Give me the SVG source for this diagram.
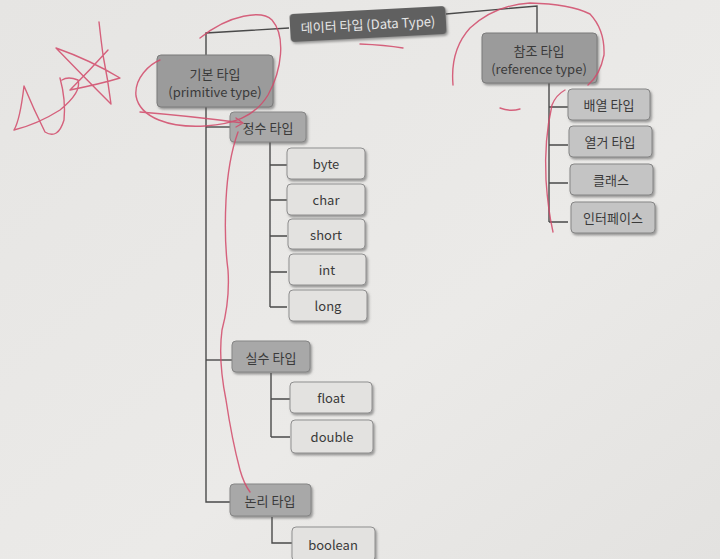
<svg xmlns="http://www.w3.org/2000/svg" width="720" height="559" viewBox="0 0 720 559">
<defs>
<linearGradient id="paper" x1="0" y1="0" x2="1" y2="1">
<stop offset="0" stop-color="#e6e5e3"/>
<stop offset="0.6" stop-color="#ebeae8"/>
<stop offset="1" stop-color="#e3e2e0"/>
</linearGradient>
<filter id="sh" x="-10%" y="-10%" width="130%" height="140%">
<feDropShadow dx="1.5" dy="2" stdDeviation="0.8" flood-color="#555" flood-opacity="0.55"/>
</filter>
<style>
text{font-family:"Noto Sans CJK KR","Noto Sans",sans-serif;font-size:13px;text-anchor:middle;dominant-baseline:central;fill:#3a3a3a}
.root rect{fill:#616161}
.root text{fill:#e6e6e6}
.l1 rect{fill:#9b9b9b;stroke:#7b7b7b;stroke-width:1}
.l2 rect{fill:#a8a8a8;stroke:#858585;stroke-width:1}
.rl rect{fill:#c4c4c4;stroke:#858585;stroke-width:1}
.pl rect{fill:#e3e2e0;stroke:#8f8f8f;stroke-width:1}
.conn{fill:none;stroke:#4a4a4a;stroke-width:1.4}
.pen{fill:none;stroke:#d24a6a;stroke-width:1.4;stroke-linecap:round;stroke-linejoin:round;opacity:0.85}
</style>
</defs>
<rect width="720" height="559" fill="url(#paper)"/>

<g id="connectors" class="conn">
<path d="M289,28 L206,33 L206,502 L231,502"/>
<path d="M206,127 L231,127"/>
<path d="M206,360 L232,360"/>
<path d="M446,14 L537,6 L537,33"/>
<path d="M549,83 L549,222"/>
<path d="M549,107 L568,107 M549,145 L568,145 M549,183 L568,183 M549,222 L568,222"/>
<path d="M270,142 L270,307"/>
<path d="M270,165 L287,165 M270,200 L287,200 M270,236 L287,236 M270,272 L287,272 M270,307 L287,307"/>
<path d="M271,373 L271,437"/>
<path d="M271,399 L290,399 M271,437 L290,437"/>
<path d="M272,517 L272,543 L292,543"/>
</g>

<g id="root" class="root" transform="rotate(-3 368 24)">
<rect x="290" y="10" width="156" height="28" rx="4" filter="url(#sh)"/>
<text x="368" y="24">데이터 타입 (Data Type)</text>
</g>

<g id="primitive" class="l1">
<rect x="157" y="55" width="116" height="52" rx="4" filter="url(#sh)"/>
<text x="215" y="73">기본 타입</text>
<text x="215" y="91">(primitive type)</text>
</g>
<g id="reference" class="l1">
<rect x="482" y="33" width="115" height="50" rx="4" filter="url(#sh)"/>
<text x="539" y="50">참조 타입</text>
<text x="539" y="68">(reference type)</text>
</g>

<g id="array" class="rl"><rect x="568" y="89" width="82" height="31" rx="4" filter="url(#sh)"/><text x="609" y="104">배열 타입</text></g>
<g id="enum" class="rl"><rect x="569" y="126" width="83" height="31" rx="4" filter="url(#sh)"/><text x="610" y="141">열거 타입</text></g>
<g id="class" class="rl"><rect x="570" y="164" width="83" height="31" rx="4" filter="url(#sh)"/><text x="611" y="179">클래스</text></g>
<g id="interface" class="rl"><rect x="571" y="202" width="84" height="31" rx="4" filter="url(#sh)"/><text x="613" y="217">인터페이스</text></g>

<g id="integer" class="l2"><rect x="230" y="112" width="76" height="30" rx="4" filter="url(#sh)"/><text x="268" y="127">정수 타입</text></g>
<g id="real" class="l2"><rect x="232" y="341" width="78" height="31" rx="4" filter="url(#sh)"/><text x="271" y="357">실수 타입</text></g>
<g id="logical" class="l2"><rect x="230" y="484" width="81" height="32" rx="4" filter="url(#sh)"/><text x="270" y="500">논리 타입</text></g>

<g id="byte" class="pl"><rect x="287" y="148" width="78" height="31" rx="4" filter="url(#sh)"/><text x="326" y="163">byte</text></g>
<g id="char" class="pl"><rect x="287" y="184" width="78" height="31" rx="4" filter="url(#sh)"/><text x="326" y="199">char</text></g>
<g id="short" class="pl"><rect x="288" y="219" width="77" height="30" rx="4" filter="url(#sh)"/><text x="326" y="234">short</text></g>
<g id="int" class="pl"><rect x="289" y="254" width="77" height="31" rx="4" filter="url(#sh)"/><text x="327" y="269">int</text></g>
<g id="long" class="pl"><rect x="289" y="290" width="78" height="31" rx="4" filter="url(#sh)"/><text x="328" y="305">long</text></g>
<g id="float" class="pl"><rect x="290" y="382" width="82" height="31" rx="4" filter="url(#sh)"/><text x="331" y="397">float</text></g>
<g id="double" class="pl"><rect x="291" y="420" width="82" height="33" rx="4" filter="url(#sh)"/><text x="332" y="436">double</text></g>
<g id="boolean" class="pl"><rect x="292" y="527" width="83" height="34" rx="4" filter="url(#sh)"/><text x="333" y="544">boolean</text></g>

<g id="pen-marks" class="pen">
<path d="M99,22 Q101,40 103,55 Q108,80 111,104 Q85,78 56,48 Q90,60 120,78 Q100,84 70,90 Q90,70 108,50"/>
<path d="M62,80 Q68,76 78,80 Q82,92 60,110 Q38,124 14,130 Q20,120 24,86 Q34,110 45,132 Q58,140 64,120 Q66,100 60,78"/>
<path d="M200,38 C230,14 262,10 272,20 C286,36 282,70 268,95 C254,118 232,124 205,126 C170,128 140,118 136,96 C134,78 150,64 160,60"/>
<path d="M140,112 Q190,116 243,123 L236,118 M243,123 L236,127"/>
<path d="M238,132 Q228,160 226,200 Q224,240 228,270 Q230,300 222,330 Q218,360 226,400 Q232,440 240,470 Q244,484 250,492"/>
<path d="M453,85 Q450,50 470,28 Q495,5 530,3 Q570,4 590,14 Q605,30 604,55 Q600,75 588,85"/>
<path d="M565,90 Q556,95 552,105 Q544,140 546,180 Q548,210 553,232"/>
<path d="M360,44 Q385,45 403,48"/>
<path d="M500,108 Q510,112 520,109"/>
</g>
</svg>
